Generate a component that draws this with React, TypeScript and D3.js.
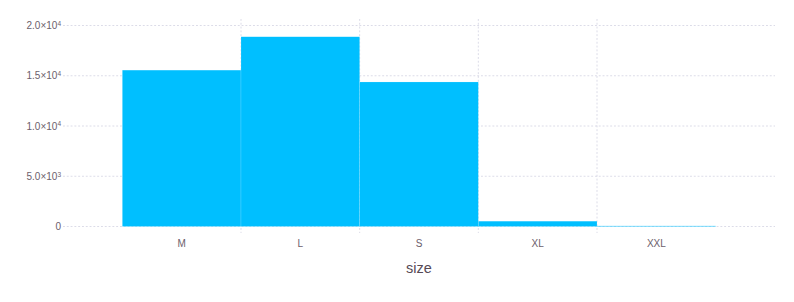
import React from "react";
import * as d3 from "d3";

const categories = ["M", "L", "S", "XL", "XXL"];
const counts = [15560, 18880, 14380, 530, 60];
const yTicks = [0, 5000, 10000, 15000, 20000];
const yTickLabels: [string, string][] = [["0", ""], ["5.0×10", "3"], ["1.0×10", "4"], ["1.5×10", "4"], ["2.0×10", "4"]];
const xTitle = "size";

const W = 794;
const H = 302;

export default function App() {
  const x = d3.scaleLinear().domain([0, categories.length + 1]).range([63, 775]);
  const y = d3.scaleLinear().domain([0, 20000]).range([226.5, 25.5]);
  const gridColor = "#D0D0E0";
  const font = "'Liberation Sans', Arial, sans-serif";
  const vGrid = d3.range(1.5, categories.length, 1);
  return (
    <svg width={W} height={H} style={{ position: "absolute", left: 0, top: 0, background: "white" }}>
      <g>
        {yTicks.map((t) => (
          <line key={"h" + t} x1={63} x2={775} y1={y(t)} y2={y(t)} stroke={gridColor} strokeWidth={0.75} strokeDasharray="1.9 1.9" />
        ))}
        {vGrid.map((v) => (
          <line key={"v" + v} x1={x(v)} x2={x(v)} y1={19} y2={233} stroke={gridColor} strokeWidth={0.75} strokeDasharray="1.9 1.9" />
        ))}
      </g>
      <g>
        {categories.map((c, i) => (
          <rect
            key={c}
            x={x(i + 0.5)}
            width={x(i + 1.5) - x(i + 0.5)}
            y={y(counts[i])}
            height={y(0) - y(counts[i])}
            fill="#00BFFF"
            stroke="#ffffff"
            strokeOpacity={0.35}
            strokeWidth={0.4}
          />
        ))}
      </g>
      <g fontFamily={font} fontSize={10} fill="#6C606B">
        {yTicks.map((t, i) => (
          <text key={"yl" + t} x={61} y={y(t)} dy="0.35em" textAnchor="end">
            {yTickLabels[i][0]}
            {yTickLabels[i][1] && (
              <tspan fontSize={6.5} dy="-0.5em">{yTickLabels[i][1]}</tspan>
            )}
          </text>
        ))}
        {categories.map((c, i) => (
          <text key={"xl" + c} x={x(i + 1)} y={243} dy="0.35em" textAnchor="middle">
            {c}
          </text>
        ))}
      </g>
      <text x={x(3)} y={268} dy="0.35em" textAnchor="middle" fontFamily={font} fontSize={14.5} fill="#564A55">
        {xTitle}
      </text>
    </svg>
  );
}
